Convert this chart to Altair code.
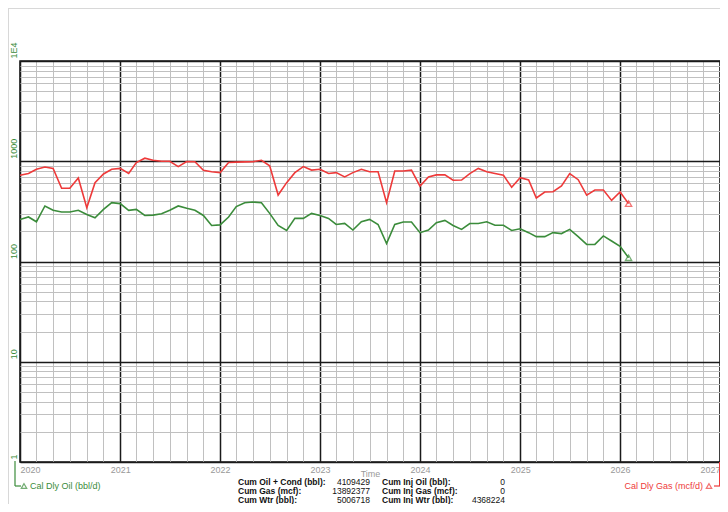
import altair as alt
import pandas as pd

# ---- data (monthly, Jan 2020 .. Feb 2026) ----
months = pd.date_range("2020-01-01", periods=74, freq="MS")

gas = [724, 754, 832, 877, 848, 537, 537, 681, 344, 612, 747, 832,
       848, 754, 970, 1072, 1023, 1000, 1000, 885, 993, 990, 813, 787,
       770, 970, 980, 985, 990, 1023, 900, 460, 612, 770, 885, 816,
       832, 754, 770, 697, 770, 832, 787, 787, 386, 798, 798, 816,
       566, 697, 731, 731, 646, 650, 754, 848, 787, 754, 724, 550,
       685, 650, 430, 493, 497, 566, 754, 655, 460, 516, 516, 407,
       493, 378]

oil = [263, 278, 249, 358, 324, 312, 312, 324, 295, 273, 331, 386,
       378, 324, 331, 288, 290, 300, 324, 358, 339, 324, 288, 229,
       232, 278, 353, 386, 392, 386, 302, 229, 204, 269, 269, 302,
       288, 269, 234, 240, 206, 249, 263, 234, 151, 234, 248, 248,
       194, 206, 244, 257, 229, 209, 239, 239, 249, 230, 230, 204,
       212, 194, 177, 177, 194, 190, 209, 177, 148, 148, 180, 160,
       142, 109]

oil_label = "Cal Dly Oil (bbl/d)"
gas_label = "Cal Dly Gas (mcf/d)"
x_title = "Time"
cum_labels = ["Cum Oil + Cond (bbl):", "Cum Gas (mcf):", "Cum Wtr (bbl):"]
cum_values = ["4109429", "13892377", "5006718"]
inj_labels = ["Cum Inj Oil (bbl):", "Cum Inj Gas (mcf):", "Cum Inj Wtr (bbl):"]
inj_values = ["0", "0", "4368224"]

GREEN = "#3b8c3b"
RED = "#ee3a3a"
FONT = "Liberation Sans"

df = pd.DataFrame({"date": months, "oil": oil, "gas": gas})
last = df.tail(1)
one = pd.DataFrame({"k": [0]})

# grid tick values
x_ticks = [alt.DateTime(year=int(d.year), month=int(d.month), date=1)
           for d in pd.date_range("2020-01-01", "2027-01-01", freq="2MS")]
y_ticks = [m * 10 ** e for e in range(4) for m in range(1, 10)] + [10000]

x_enc = alt.X(
    "date:T",
    scale=alt.Scale(domain=[alt.DateTime(year=2020, month=1, date=1),
                            alt.DateTime(year=2027, month=1, date=1)]),
    axis=alt.Axis(
        values=x_ticks, title=x_title, ticks=False, domain=False,
        labelExpr="month(datum.value) == 0 ? timeFormat(datum.value, '%Y') : ''",
        labelAlign={"condition": [
            {"test": "year(datum.value) == 2020", "value": "left"},
            {"test": "year(datum.value) == 2027", "value": "right"}],
            "value": "center"},
        labelOverlap=False, labelColor="#999999",
        labelFont=FONT, labelFontSize=9, labelPadding=3, labelBaseline="top",
        titleColor="#999999", titleFont=FONT, titleFontSize=9,
        titleFontWeight="normal", titleY=11, titleBaseline="middle",
        grid=True,
        gridColor={"condition": {"test": "month(datum.value) == 0", "value": "#1a1a1a"},
                   "value": "#c0c0c0"},
        gridWidth={"condition": {"test": "month(datum.value) == 0", "value": 1.5},
                   "value": 1},
    ),
)

yscale = alt.Scale(type="log", domain=[1, 10000])

y_left = alt.Y(
    "oil:Q", scale=yscale,
    axis=alt.Axis(
        values=y_ticks, title=None, ticks=False, domain=False,
        labelExpr="datum.value == 10000 ? '1E4' : (indexof([1, 10, 100, 1000], datum.value) >= 0 ? format(datum.value, 'd') : '')",
        labelAngle=270, labelAlign="left", labelBaseline="bottom",
        labelOffset=-3, labelPadding=2, labelOverlap=False,
        labelColor=GREEN, labelFont=FONT, labelFontSize=9,
        grid=True,
        gridColor={"condition": {"test": "indexof([1, 10, 100, 1000, 10000], datum.value) >= 0",
                                 "value": "#1a1a1a"},
                   "value": "#c0c0c0"},
        gridWidth={"condition": {"test": "indexof([1, 10, 100, 1000, 10000], datum.value) >= 0",
                                 "value": 1.5},
                   "value": 1},
    ),
)

y_right = alt.Y(
    "gas:Q", scale=yscale,
    axis=alt.Axis(
        orient="right", values=[1, 10, 100, 1000, 10000], title=None,
        ticks=False, domain=False, grid=False,
        labelExpr="datum.value == 10000 ? '1E4' : format(datum.value, 'd')",
        labelAngle=90, labelAlign="right", labelBaseline="bottom",
        labelOffset=-3, labelPadding=1, labelOverlap=False,
        labelColor=RED, labelFont=FONT, labelFontSize=9,
    ),
)

oil_line = alt.Chart(df).mark_line(color=GREEN, strokeWidth=1.6).encode(x=x_enc, y=y_left)
oil_pt = alt.Chart(last).mark_point(shape="triangle-up", filled=False, color=GREEN,
                                    size=40, strokeWidth=1.3).encode(x=x_enc, y=y_left)
gas_line = alt.Chart(df).mark_line(color=RED, strokeWidth=1.6).encode(x=x_enc, y=y_right)
gas_pt = alt.Chart(last).mark_point(shape="triangle-up", filled=False, color=RED,
                                    size=40, strokeWidth=1.3).encode(x=x_enc, y=y_right)

# ---- decorations / annotations (pixel positions relative to plot area) ----
base = alt.Chart(one)
frame_top = base.mark_rule(color="#d8d8d8", strokeWidth=2).encode(
    x=alt.value(-12), x2=alt.value(700), y=alt.value(-53))
frame_left = base.mark_rule(color="#d8d8d8", strokeWidth=2).encode(
    x=alt.value(-12), y=alt.value(-53), y2=alt.value(445))

g_v = base.mark_rule(color=GREEN, strokeWidth=1.2).encode(
    x=alt.value(-5), y=alt.value(400), y2=alt.value(425))
g_h = base.mark_rule(color=GREEN, strokeWidth=1.2).encode(
    x=alt.value(-5), x2=alt.value(1), y=alt.value(425))
g_tri = base.mark_point(shape="triangle-up", filled=False, color=GREEN, size=30,
                        strokeWidth=1.2).encode(x=alt.value(4), y=alt.value(425))
g_txt = base.mark_text(align="left", baseline="middle", font=FONT, fontSize=9,
                       color=GREEN).encode(x=alt.value(10), y=alt.value(425),
                                           text=alt.value(oil_label))

r_v = base.mark_rule(color=RED, strokeWidth=2).encode(
    x=alt.value(700), y=alt.value(401), y2=alt.value(425))
r_h = base.mark_rule(color=RED, strokeWidth=1.2).encode(
    x=alt.value(694), x2=alt.value(700), y=alt.value(425))
r_tri = base.mark_point(shape="triangle-up", filled=False, color=RED, size=30,
                        strokeWidth=1.2).encode(x=alt.value(689), y=alt.value(425))
r_txt = base.mark_text(align="right", baseline="middle", font=FONT, fontSize=9,
                       color=RED).encode(x=alt.value(683), y=alt.value(425),
                                         text=alt.value(gas_label))

def block(lines, xpos, align, bold):
    return base.mark_text(align=align, baseline="top", font=FONT, fontSize=8.5,
                          lineHeight=9, fontWeight="bold" if bold else "normal",
                          color="#111111").encode(
        x=alt.value(xpos), y=alt.value(417), text=alt.value(lines))

t1 = block(cum_labels, 218, "left", True)
t2 = block(cum_values, 350, "right", False)
t3 = block(inj_labels, 362, "left", True)
t4 = block(inj_values, 485, "right", False)

oil_layer = alt.layer(oil_line, oil_pt, frame_top, frame_left, g_v, g_h, g_tri, g_txt,
                      r_v, r_h, r_tri, r_txt, t1, t2, t3, t4)
gas_layer = alt.layer(gas_line, gas_pt)

chart = alt.layer(oil_layer, gas_layer).resolve_scale(y="independent").properties(
    width=700, height=401, autosize="none",
    padding={"left": 12, "top": 53, "right": 0, "bottom": 42},
    background="white",
).configure_view(stroke="#111111", strokeWidth=1.5)

chart.save("out.html", embed_options={"renderer": "svg", "actions": False})
